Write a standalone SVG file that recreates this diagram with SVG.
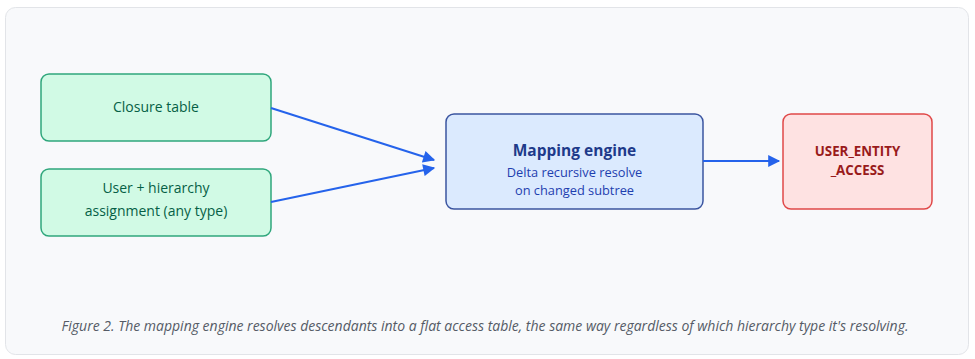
<svg xmlns="http://www.w3.org/2000/svg" width="975" height="359" viewBox="0 0 975 359">
<defs>
<style>
.t{font-family:"Open Sans","Noto Sans",sans-serif;text-anchor:middle}
.green rect{fill:#d1fae5;stroke:#2fa77c;stroke-width:1.5}
.green text{fill:#065f46;font-size:14px}
.blue rect{fill:#dbeafe;stroke:#3b55a0;stroke-width:1.5}
.red rect{fill:#fee2e2;stroke:#e04848;stroke-width:1.5}
.conn line{stroke:#2563eb;stroke-width:2;marker-end:url(#ah)}
</style>
<marker id="ah" viewBox="0 0 10 10" refX="9" refY="5" markerWidth="13" markerHeight="12" markerUnits="userSpaceOnUse" orient="auto">
<path d="M0,0 L10,5 L0,10 z" fill="#2563eb"/>
</marker>
</defs>
<rect x="0" y="0" width="975" height="359" fill="#ffffff"/>
<rect x="5.5" y="7.5" width="963" height="347" rx="10" fill="#f8f9fb" stroke="#e2e4e8" stroke-width="1"/>
<g id="closure" class="green">
<rect x="41" y="74" width="230" height="67" rx="8"/>
<text class="t" x="156" y="112">Closure table</text>
</g>
<g id="assignment" class="green">
<rect x="41" y="169" width="230" height="67" rx="8"/>
<text class="t" x="156" y="193">User + hierarchy</text>
<text class="t" x="156" y="216">assignment (any type)</text>
</g>
<g id="engine" class="blue">
<rect x="446" y="114" width="257" height="95" rx="8"/>
<text class="t" x="574.5" y="156" font-size="15.5" font-weight="bold" fill="#1e3a8a">Mapping engine</text>
<text class="t" x="574.5" y="177" font-size="12.8" fill="#1e40af">Delta recursive resolve</text>
<text class="t" x="574.5" y="195" font-size="12.8" fill="#1e40af">on changed subtree</text>
</g>
<g id="access" class="red">
<rect x="783" y="114" width="149" height="95" rx="8"/>
<text class="t" x="857.5" y="156" font-size="13.3" font-weight="bold" fill="#991b1b">USER_ENTITY</text>
<text class="t" x="857.5" y="175" font-size="13.3" font-weight="bold" fill="#991b1b">_ACCESS</text>
</g>
<g id="connectors" class="conn">
<line x1="271" y1="108" x2="434" y2="160"/>
<line x1="271" y1="202" x2="434" y2="168"/>
<line x1="703" y1="161" x2="779" y2="161"/>
</g>
<text class="t" x="485" y="331" font-size="14" font-style="italic" fill="#555b66">Figure 2. The mapping engine resolves descendants into a flat access table, the same way regardless of which hierarchy type it's resolving.</text>
</svg>
